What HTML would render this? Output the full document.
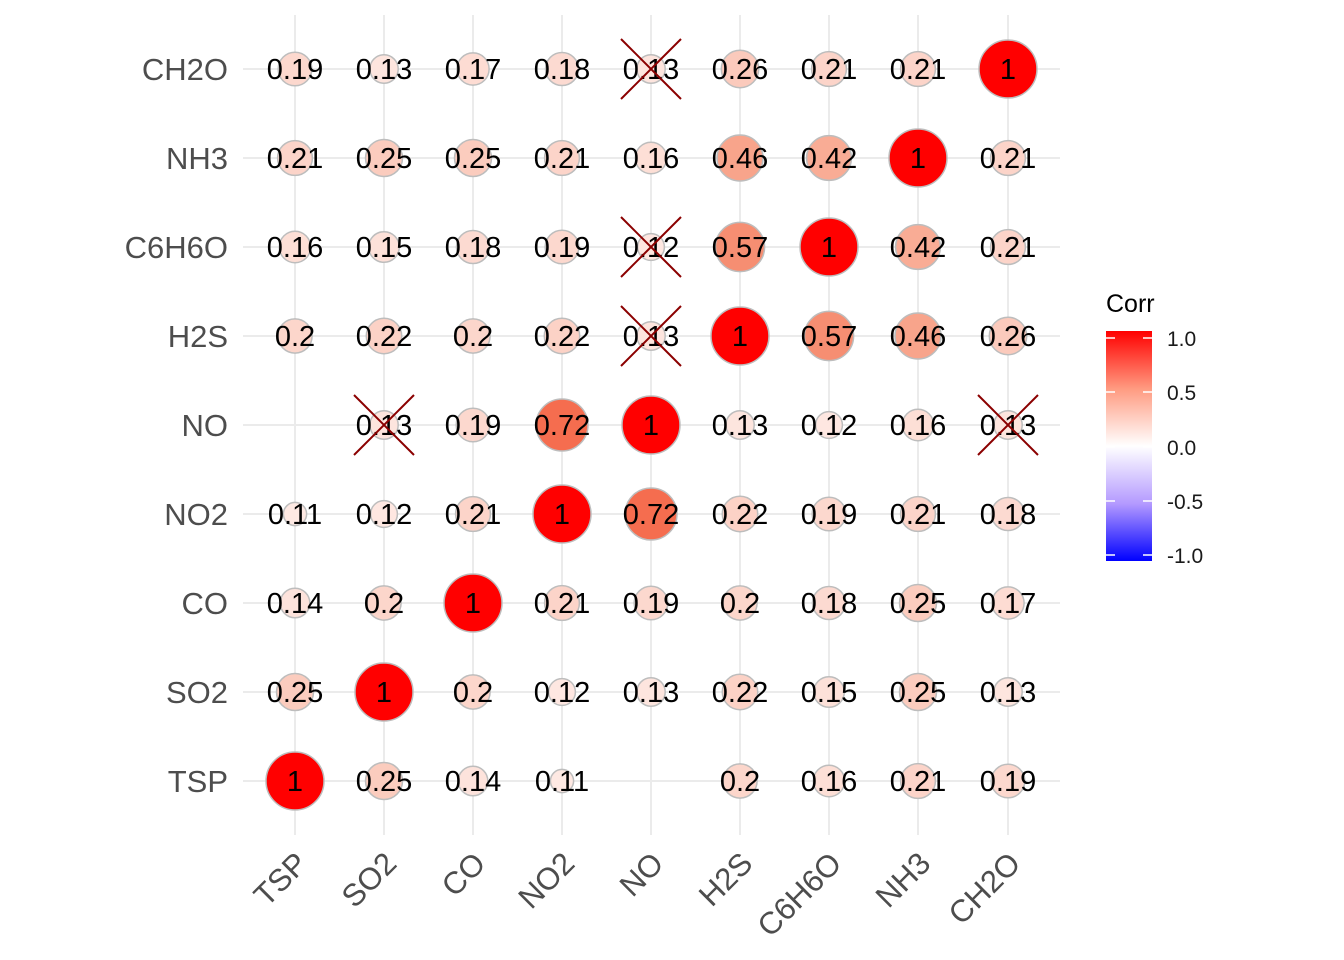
<!DOCTYPE html>
<html><head><meta charset="utf-8"><style>
html,body{margin:0;padding:0;background:#fff;}
svg{display:block;font-family:"Liberation Sans",Arial,sans-serif;}
.v{font-size:29px;fill:#000;text-anchor:middle;}
.yl{font-size:31px;fill:#4D4D4D;text-anchor:end;}
.xl{font-size:31px;fill:#4D4D4D;text-anchor:end;}
circle{stroke:#BDBDBD;stroke-width:1.5;}
.x{stroke:#8B0000;stroke-width:2;}
</style></head><body>
<svg width="1344" height="960" viewBox="0 0 1344 960" xmlns="http://www.w3.org/2000/svg">
<defs><linearGradient id="g" x1="0" y1="0" x2="0" y2="1">
<stop offset="0" stop-color="#FF0000"/><stop offset="0.25" stop-color="#FF9A80"/><stop offset="0.5" stop-color="#FFFFFF"/><stop offset="0.75" stop-color="#B49AFF"/><stop offset="1" stop-color="#0000FF"/></linearGradient></defs>
<g stroke="#EBEBEB" stroke-width="2">
<line x1="295" y1="15" x2="295" y2="835"/><line x1="384" y1="15" x2="384" y2="835"/><line x1="473" y1="15" x2="473" y2="835"/><line x1="562" y1="15" x2="562" y2="835"/><line x1="651" y1="15" x2="651" y2="835"/><line x1="740" y1="15" x2="740" y2="835"/><line x1="829" y1="15" x2="829" y2="835"/><line x1="918" y1="15" x2="918" y2="835"/><line x1="1008" y1="15" x2="1008" y2="835"/>
<line x1="243" y1="69" x2="1060" y2="69"/><line x1="243" y1="158" x2="1060" y2="158"/><line x1="243" y1="247" x2="1060" y2="247"/><line x1="243" y1="336" x2="1060" y2="336"/><line x1="243" y1="425" x2="1060" y2="425"/><line x1="243" y1="514" x2="1060" y2="514"/><line x1="243" y1="603" x2="1060" y2="603"/><line x1="243" y1="692" x2="1060" y2="692"/><line x1="243" y1="781" x2="1060" y2="781"/>
</g>
<circle cx="295" cy="69" r="16.8" fill="#FCD8CE"/><circle cx="384" cy="69" r="14.2" fill="#FDE5DE"/><circle cx="473" cy="69" r="16.1" fill="#FDDCD3"/><circle cx="562" cy="69" r="16.5" fill="#FCDAD1"/><circle cx="651" cy="69" r="14.2" fill="#FDE5DE"/><circle cx="740" cy="69" r="18.7" fill="#FBCABC"/><circle cx="829" cy="69" r="17.4" fill="#FCD4C9"/><circle cx="918" cy="69" r="17.4" fill="#FCD4C9"/><circle cx="1008" cy="69" r="29" fill="#FF0000"/>
<circle cx="295" cy="158" r="17.4" fill="#FCD4C9"/><circle cx="384" cy="158" r="18.5" fill="#FBCCBE"/><circle cx="473" cy="158" r="18.5" fill="#FBCCBE"/><circle cx="562" cy="158" r="17.4" fill="#FCD4C9"/><circle cx="651" cy="158" r="15.7" fill="#FDDFD6"/><circle cx="740" cy="158" r="23" fill="#F8A48B"/><circle cx="829" cy="158" r="22.4" fill="#F9AC95"/><circle cx="918" cy="158" r="29" fill="#FF0000"/><circle cx="1008" cy="158" r="17.4" fill="#FCD4C9"/>
<circle cx="295" cy="247" r="15.7" fill="#FDDFD6"/><circle cx="384" cy="247" r="15.3" fill="#FDE1D9"/><circle cx="473" cy="247" r="16.5" fill="#FCDAD1"/><circle cx="562" cy="247" r="16.8" fill="#FCD8CE"/><circle cx="651" cy="247" r="13.4" fill="#FEE7E1"/><circle cx="740" cy="247" r="24.6" fill="#F68E72"/><circle cx="829" cy="247" r="29" fill="#FF0000"/><circle cx="918" cy="247" r="22.4" fill="#F9AC95"/><circle cx="1008" cy="247" r="17.4" fill="#FCD4C9"/>
<circle cx="295" cy="336" r="17.1" fill="#FCD6CB"/><circle cx="384" cy="336" r="17.7" fill="#FCD2C6"/><circle cx="473" cy="336" r="17.1" fill="#FCD6CB"/><circle cx="562" cy="336" r="17.7" fill="#FCD2C6"/><circle cx="651" cy="336" r="14.2" fill="#FDE5DE"/><circle cx="740" cy="336" r="29" fill="#FF0000"/><circle cx="829" cy="336" r="24.6" fill="#F68E72"/><circle cx="918" cy="336" r="23" fill="#F8A48B"/><circle cx="1008" cy="336" r="18.7" fill="#FBCABC"/>
<circle cx="384" cy="425" r="14.2" fill="#FDE5DE"/><circle cx="473" cy="425" r="16.8" fill="#FCD8CE"/><circle cx="562" cy="425" r="26" fill="#F56D4F"/><circle cx="651" cy="425" r="29" fill="#FF0000"/><circle cx="740" cy="425" r="14.2" fill="#FDE5DE"/><circle cx="829" cy="425" r="13.4" fill="#FEE7E1"/><circle cx="918" cy="425" r="15.7" fill="#FDDFD6"/><circle cx="1008" cy="425" r="14.2" fill="#FDE5DE"/>
<circle cx="295" cy="514" r="11.6" fill="#FEE9E3"/><circle cx="384" cy="514" r="13.4" fill="#FEE7E1"/><circle cx="473" cy="514" r="17.4" fill="#FCD4C9"/><circle cx="562" cy="514" r="29" fill="#FF0000"/><circle cx="651" cy="514" r="26" fill="#F56D4F"/><circle cx="740" cy="514" r="17.7" fill="#FCD2C6"/><circle cx="829" cy="514" r="16.8" fill="#FCD8CE"/><circle cx="918" cy="514" r="17.4" fill="#FCD4C9"/><circle cx="1008" cy="514" r="16.5" fill="#FCDAD1"/>
<circle cx="295" cy="603" r="14.8" fill="#FDE3DC"/><circle cx="384" cy="603" r="17.1" fill="#FCD6CB"/><circle cx="473" cy="603" r="29" fill="#FF0000"/><circle cx="562" cy="603" r="17.4" fill="#FCD4C9"/><circle cx="651" cy="603" r="16.8" fill="#FCD8CE"/><circle cx="740" cy="603" r="17.1" fill="#FCD6CB"/><circle cx="829" cy="603" r="16.5" fill="#FCDAD1"/><circle cx="918" cy="603" r="18.5" fill="#FBCCBE"/><circle cx="1008" cy="603" r="16.1" fill="#FDDCD3"/>
<circle cx="295" cy="692" r="18.5" fill="#FBCCBE"/><circle cx="384" cy="692" r="29" fill="#FF0000"/><circle cx="473" cy="692" r="17.1" fill="#FCD6CB"/><circle cx="562" cy="692" r="13.4" fill="#FEE7E1"/><circle cx="651" cy="692" r="14.2" fill="#FDE5DE"/><circle cx="740" cy="692" r="17.7" fill="#FCD2C6"/><circle cx="829" cy="692" r="15.3" fill="#FDE1D9"/><circle cx="918" cy="692" r="18.5" fill="#FBCCBE"/><circle cx="1008" cy="692" r="14.2" fill="#FDE5DE"/>
<circle cx="295" cy="781" r="29" fill="#FF0000"/><circle cx="384" cy="781" r="18.5" fill="#FBCCBE"/><circle cx="473" cy="781" r="14.8" fill="#FDE3DC"/><circle cx="562" cy="781" r="11.6" fill="#FEE9E3"/><circle cx="740" cy="781" r="17.1" fill="#FCD6CB"/><circle cx="829" cy="781" r="15.7" fill="#FDDFD6"/><circle cx="918" cy="781" r="17.4" fill="#FCD4C9"/><circle cx="1008" cy="781" r="16.8" fill="#FCD8CE"/>
<g class="v">
<text x="295" y="79">0.19</text><text x="384" y="79">0.13</text><text x="473" y="79">0.17</text><text x="562" y="79">0.18</text><text x="651" y="79">0.13</text><text x="740" y="79">0.26</text><text x="829" y="79">0.21</text><text x="918" y="79">0.21</text><text x="1008" y="79">1</text>
<text x="295" y="168">0.21</text><text x="384" y="168">0.25</text><text x="473" y="168">0.25</text><text x="562" y="168">0.21</text><text x="651" y="168">0.16</text><text x="740" y="168">0.46</text><text x="829" y="168">0.42</text><text x="918" y="168">1</text><text x="1008" y="168">0.21</text>
<text x="295" y="257">0.16</text><text x="384" y="257">0.15</text><text x="473" y="257">0.18</text><text x="562" y="257">0.19</text><text x="651" y="257">0.12</text><text x="740" y="257">0.57</text><text x="829" y="257">1</text><text x="918" y="257">0.42</text><text x="1008" y="257">0.21</text>
<text x="295" y="346">0.2</text><text x="384" y="346">0.22</text><text x="473" y="346">0.2</text><text x="562" y="346">0.22</text><text x="651" y="346">0.13</text><text x="740" y="346">1</text><text x="829" y="346">0.57</text><text x="918" y="346">0.46</text><text x="1008" y="346">0.26</text>
<text x="384" y="435">0.13</text><text x="473" y="435">0.19</text><text x="562" y="435">0.72</text><text x="651" y="435">1</text><text x="740" y="435">0.13</text><text x="829" y="435">0.12</text><text x="918" y="435">0.16</text><text x="1008" y="435">0.13</text>
<text x="295" y="524">0.11</text><text x="384" y="524">0.12</text><text x="473" y="524">0.21</text><text x="562" y="524">1</text><text x="651" y="524">0.72</text><text x="740" y="524">0.22</text><text x="829" y="524">0.19</text><text x="918" y="524">0.21</text><text x="1008" y="524">0.18</text>
<text x="295" y="613">0.14</text><text x="384" y="613">0.2</text><text x="473" y="613">1</text><text x="562" y="613">0.21</text><text x="651" y="613">0.19</text><text x="740" y="613">0.2</text><text x="829" y="613">0.18</text><text x="918" y="613">0.25</text><text x="1008" y="613">0.17</text>
<text x="295" y="702">0.25</text><text x="384" y="702">1</text><text x="473" y="702">0.2</text><text x="562" y="702">0.12</text><text x="651" y="702">0.13</text><text x="740" y="702">0.22</text><text x="829" y="702">0.15</text><text x="918" y="702">0.25</text><text x="1008" y="702">0.13</text>
<text x="295" y="791">1</text><text x="384" y="791">0.25</text><text x="473" y="791">0.14</text><text x="562" y="791">0.11</text><text x="740" y="791">0.2</text><text x="829" y="791">0.16</text><text x="918" y="791">0.21</text><text x="1008" y="791">0.19</text>
</g>
<g class="x">
<line x1="621" y1="39" x2="681" y2="99"/><line x1="681" y1="39" x2="621" y2="99"/>
<line x1="621" y1="217" x2="681" y2="277"/><line x1="681" y1="217" x2="621" y2="277"/>
<line x1="621" y1="306" x2="681" y2="366"/><line x1="681" y1="306" x2="621" y2="366"/>
<line x1="354" y1="395" x2="414" y2="455"/><line x1="414" y1="395" x2="354" y2="455"/>
<line x1="978" y1="395" x2="1038" y2="455"/><line x1="1038" y1="395" x2="978" y2="455"/>
</g>
<g class="yl">
<text x="228" y="80">CH2O</text><text x="228" y="169">NH3</text><text x="228" y="258">C6H6O</text><text x="228" y="347">H2S</text><text x="228" y="436">NO</text><text x="228" y="525">NO2</text><text x="228" y="614">CO</text><text x="228" y="703">SO2</text><text x="228" y="792">TSP</text>
</g>
<g class="xl">
<text transform="translate(294,850) rotate(-45)" dy="0.7em">TSP</text>
<text transform="translate(383,850) rotate(-45)" dy="0.7em">SO2</text>
<text transform="translate(472,850) rotate(-45)" dy="0.7em">CO</text>
<text transform="translate(561,850) rotate(-45)" dy="0.7em">NO2</text>
<text transform="translate(650,850) rotate(-45)" dy="0.7em">NO</text>
<text transform="translate(739,850) rotate(-45)" dy="0.7em">H2S</text>
<text transform="translate(828,850) rotate(-45)" dy="0.7em">C6H6O</text>
<text transform="translate(917,850) rotate(-45)" dy="0.7em">NH3</text>
<text transform="translate(1007,850) rotate(-45)" dy="0.7em">CH2O</text>
</g>
<text x="1106" y="312" font-size="25" fill="#000">Corr</text>
<rect x="1106" y="331" width="46" height="230" fill="url(#g)"/>
<g stroke="#fff" stroke-width="1.5">
<line x1="1106" y1="338" x2="1115" y2="338"/><line x1="1143" y1="338" x2="1152" y2="338"/>
<line x1="1106" y1="392" x2="1115" y2="392"/><line x1="1143" y1="392" x2="1152" y2="392"/>
<line x1="1106" y1="447" x2="1115" y2="447"/><line x1="1143" y1="447" x2="1152" y2="447"/>
<line x1="1106" y1="501" x2="1115" y2="501"/><line x1="1143" y1="501" x2="1152" y2="501"/>
<line x1="1106" y1="555" x2="1115" y2="555"/><line x1="1143" y1="555" x2="1152" y2="555"/>
</g>
<g font-size="21" fill="#1A1A1A">
<text x="1167" y="346">1.0</text><text x="1167" y="400">0.5</text><text x="1167" y="455">0.0</text><text x="1167" y="509">-0.5</text><text x="1167" y="563">-1.0</text>
</g>
</svg>
</body></html>
